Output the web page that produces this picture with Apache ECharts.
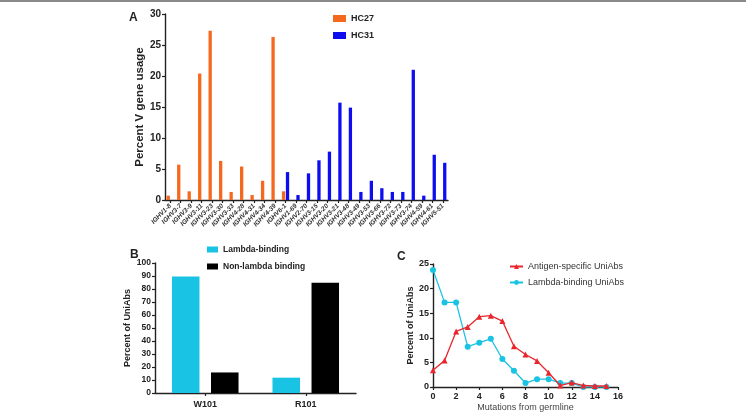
<!DOCTYPE html>
<html>
<head>
<meta charset="utf-8">
<script src="https://cdn.jsdelivr.net/npm/echarts@6/dist/echarts.min.js"></script>
<style>
  html, body { margin: 0; padding: 0; background: #fff; }
  #chart { width: 746px; height: 419px; }
</style>
</head>
<body>
<div id="chart"></div>
<script>
// Panel A: V gene usage
const vGenes = ['IGHV1-8', 'IGHV3-7', 'IGHV3-9', 'IGHV3-11', 'IGHV3-23', 'IGHV3-30', 'IGHV3-33',
    'IGHV4-28', 'IGHV4-31', 'IGHV4-34', 'IGHV4-39', 'IGHV6-1', 'IGHV1-69', 'IGHV2-70', 'IGHV3-15',
    'IGHV3-20', 'IGHV3-21', 'IGHV3-48', 'IGHV3-49', 'IGHV3-53', 'IGHV3-66', 'IGHV3-72', 'IGHV3-73',
    'IGHV3-74', 'IGHV4-59', 'IGHV4-61', 'IGHV5-51'];
const hc27 = [0.7, 5.7, 1.4, 20.4, 27.3, 6.3, 1.3, 5.4, 0.8, 3.1, 26.3, 1.4,
    null, null, null, null, null, null, null, null, null, null, null, null, null, null, null];
const hc31 = [null, null, null, null, null, null, null, null, null, null, null, 4.5,
    0.8, 4.3, 6.4, 7.8, 15.7, 14.9, 1.3, 3.1, 1.9, 1.3, 1.3, 21.0, 0.7, 7.3, 6.0];

// Panel B: residue 101
const residues = ['W101', 'R101'];
const lambdaBinding = [89.7, 11.8];
const nonLambdaBinding = [15.8, 84.8];

// Panel C: mutations from germline
const mutations = [0, 1, 2, 3, 4, 5, 6, 7, 8, 9, 10, 11, 12, 13, 14, 15];
const antigenSpecific = [3.4, 5.4, 11.3, 12.2, 14.3, 14.5, 13.4, 8.3, 6.6, 5.3, 2.9, 0.3, 0.9, 0.3, 0.2, 0.2];
const lambdaUniAbs = [23.8, 17.2, 17.2, 8.2, 9.0, 9.8, 5.7, 3.3, 0.8, 1.6, 1.6, 0.8, 0.8, 0, 0, 0];

const FONT = '"Liberation Sans", Arial, sans-serif';
const ORANGE = '#f5691e';
const BLUE = '#0d0df0';
const CYAN = '#19c3e3';
const RED = '#e8262b';

const axisLine = { show: true, lineStyle: { color: '#222', width: 1.4 } };
const axisTick = { show: true, inside: false, length: 3, lineStyle: { color: '#222', width: 1.2 } };
const boldLabel = (size) => ({ color: '#222', fontFamily: FONT, fontWeight: 'bold', fontSize: size });

const chart = echarts.init(document.getElementById('chart'), null, { renderer: 'canvas' });

chart.setOption({
    animation: false,
    backgroundColor: '#fff',
    textStyle: { fontFamily: FONT },
    grid: [
        { left: 165, top: 14, width: 283, height: 186 },
        { left: 155, top: 263, width: 201, height: 130 },
        { left: 433, top: 264, width: 185, height: 123 }
    ],
    legend: [
        {
            data: ['HC27', 'HC31'], orient: 'vertical', left: 333, top: 14, padding: 0,
            itemWidth: 13, itemHeight: 7, itemGap: 8, icon: 'rect',
            textStyle: boldLabel(9)
        },
        {
            data: ['Lambda-binding', 'Non-lambda binding'], orient: 'vertical', left: 207, top: 245, padding: 0,
            itemWidth: 11, itemHeight: 6, itemGap: 8, icon: 'rect',
            textStyle: boldLabel(8.5)
        },
        {
            data: ['Antigen-specific UniAbs', 'Lambda-binding UniAbs'], orient: 'vertical', left: 509, top: 262, padding: 0,
            itemWidth: 13, itemHeight: 6, itemGap: 7,
            textStyle: { color: '#333', fontFamily: FONT, fontSize: 9 }
        }
    ],
    xAxis: [
        {
            gridIndex: 0, type: 'category', data: vGenes,
            axisLine, axisTick: { ...axisTick, alignWithLabel: true },
            axisLabel: { ...boldLabel(6.5), fontStyle: 'italic', rotate: 45, interval: 0, margin: 5, color: '#333' }
        },
        {
            gridIndex: 1, type: 'category', data: residues,
            axisLine, axisTick: { ...axisTick, alignWithLabel: true },
            axisLabel: { ...boldLabel(9), margin: 7 }
        },
        {
            gridIndex: 2, type: 'value', min: 0, max: 16, interval: 2,
            axisLine, axisTick, splitLine: { show: false },
            axisLabel: { ...boldLabel(9), margin: 5 },
            name: 'Mutations from germline', nameLocation: 'middle', nameGap: 16,
            nameTextStyle: { color: '#444', fontFamily: FONT, fontSize: 9 }
        }
    ],
    yAxis: [
        {
            gridIndex: 0, type: 'value', min: 0, max: 30, interval: 5,
            axisLine, axisTick, splitLine: { show: false },
            axisLabel: { ...boldLabel(10), margin: 4 },
            name: 'Percent V gene usage', nameLocation: 'middle', nameGap: 19,
            nameTextStyle: boldLabel(11.5)
        },
        {
            gridIndex: 1, type: 'value', min: 0, max: 100, interval: 10,
            axisLine, axisTick, splitLine: { show: false },
            axisLabel: { ...boldLabel(8.5), margin: 4 },
            name: 'Percent of UniAbs', nameLocation: 'middle', nameGap: 23,
            nameTextStyle: boldLabel(9)
        },
        {
            gridIndex: 2, type: 'value', min: 0, max: 25, interval: 5,
            axisLine, axisTick, splitLine: { show: false },
            axisLabel: { ...boldLabel(9), margin: 4 },
            name: 'Percent of UniAbs', nameLocation: 'middle', nameGap: 18,
            nameTextStyle: boldLabel(9)
        }
    ],
    series: [
        { name: 'HC27', type: 'bar', xAxisIndex: 0, yAxisIndex: 0, data: hc27,
          barWidth: 3.3, barGap: '20%', itemStyle: { color: ORANGE } },
        { name: 'HC31', type: 'bar', xAxisIndex: 0, yAxisIndex: 0, data: hc31,
          barWidth: 3.3, barGap: '20%', itemStyle: { color: BLUE } },
        { name: 'Lambda-binding', type: 'bar', xAxisIndex: 1, yAxisIndex: 1, data: lambdaBinding,
          barWidth: 27.5, barGap: '42%', itemStyle: { color: CYAN } },
        { name: 'Non-lambda binding', type: 'bar', xAxisIndex: 1, yAxisIndex: 1, data: nonLambdaBinding,
          barWidth: 27.5, barGap: '42%', itemStyle: { color: '#000' } },
        { name: 'Antigen-specific UniAbs', type: 'line', xAxisIndex: 2, yAxisIndex: 2,
          data: mutations.map((m, i) => [m, antigenSpecific[i]]),
          symbol: 'triangle', symbolSize: 6, lineStyle: { color: RED, width: 1.3 },
          itemStyle: { color: RED }, z: 3 },
        { name: 'Lambda-binding UniAbs', type: 'line', xAxisIndex: 2, yAxisIndex: 2,
          data: mutations.map((m, i) => [m, lambdaUniAbs[i]]),
          symbol: 'circle', symbolSize: 6, lineStyle: { color: CYAN, width: 1.3 },
          itemStyle: { color: CYAN }, z: 2 }
    ],
    graphic: [
        { type: 'rect', shape: { x: 0, y: 0, width: 746, height: 2 }, style: { fill: '#8a8a8a' } },
        { type: 'text', left: 129, top: 12, style: { text: 'A', font: 'bold 12px ' + FONT, fill: '#222' } },
        { type: 'text', left: 130, top: 249, style: { text: 'B', font: 'bold 12px ' + FONT, fill: '#222' } },
        { type: 'text', left: 397, top: 251, style: { text: 'C', font: 'bold 12px ' + FONT, fill: '#222' } }
    ]
});
</script>
</body>
</html>
